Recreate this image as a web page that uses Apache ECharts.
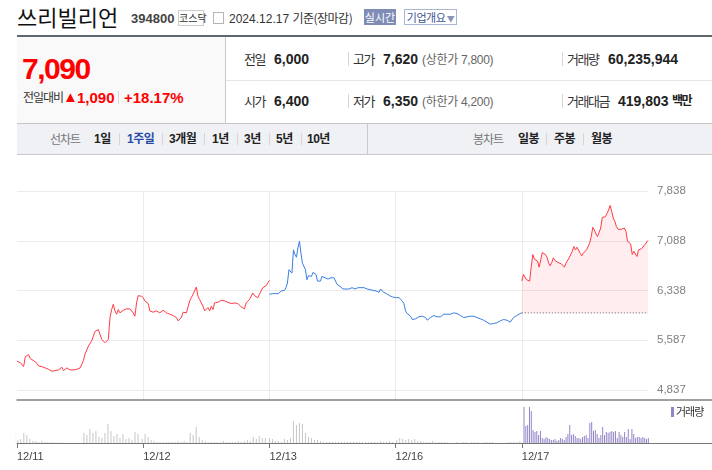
<!DOCTYPE html>
<html><head><meta charset="utf-8">
<script src="https://cdn.jsdelivr.net/npm/echarts@6/dist/echarts.min.js"></script>
<style>
html,body{margin:0;padding:0;background:#fff;}
body{width:712px;height:470px;position:relative;overflow:hidden;font-family:"Liberation Sans","Noto Sans CJK KR",sans-serif;color:#333;}
.t{position:absolute;white-space:nowrap;line-height:1;}
.b{font-weight:bold;}
.red{color:#f00;}
.lab{font-size:13px;letter-spacing:-1.5px;color:#333;font-family:"Noto Sans CJK KR",sans-serif;}
.val{font-size:14px;font-weight:bold;color:#222;}
.sep{position:absolute;width:1px;background:#d5d5d5;}
.tab{font-size:12px;font-weight:bold;color:#222;letter-spacing:-0.5px;}
#chart{position:absolute;left:0;top:155px;width:712px;height:315px;}
</style></head>
<body>
<!-- title row -->
<div class="t" style="left:17px;top:5px;font-size:22px;color:#111;font-family:'Noto Sans CJK KR';">쓰리빌리언</div>
<div class="t b" style="left:131px;top:12px;font-size:13px;color:#444;">394800</div>
<div class="t" style="left:178px;top:10px;width:24px;height:14px;border:1px solid #ccc;font-size:10px;line-height:14px;text-align:center;color:#333;font-family:'Noto Sans CJK KR';">코스닥</div>
<div class="t" style="left:213px;top:12px;width:9px;height:10px;border:1px solid #b5b5b5;"></div>
<div class="t" style="left:229px;top:12px;font-size:12px;color:#333;">2024.12.17 <span style="font-family:'Noto Sans CJK KR';letter-spacing:-0.5px">기준(장마감)</span></div>
<div class="t" style="left:364px;top:9px;width:32px;height:16px;background:#7f8db6;color:#fff;font-size:11px;line-height:16px;text-align:center;font-family:'Noto Sans CJK KR';">실시간</div>
<div class="t" style="left:404px;top:9px;width:51px;height:14px;border:1px solid #a9b6d3;color:#3c5394;font-size:11px;line-height:14px;text-align:center;font-family:'Noto Sans CJK KR';letter-spacing:-0.5px;">기업개요<span style="font-size:8px;color:#8894b8"> ▼</span></div>

<!-- top dark bar -->
<div class="t" style="left:17px;top:35px;width:695px;height:2px;background:#62666e;"></div>
<!-- left panel -->
<div class="t" style="left:17px;top:37px;width:208px;height:86px;background:#f9f9f9;border-right:1px solid #c9c9c9;"></div>
<div class="t" style="left:226px;top:80px;width:486px;height:1px;background:#e6e6e6;"></div>
<div class="t" style="left:17px;top:123px;width:695px;height:1px;background:#c5c5c5;"></div>

<div class="t b red" style="left:22px;top:54px;font-size:30px;letter-spacing:-1.5px;">7,090</div>
<div class="t" style="left:23px;top:91px;font-size:12px;color:#333;font-family:'Noto Sans CJK KR';letter-spacing:-1px;">전일대비</div>
<div class="t red" style="left:63px;top:89px;font-size:15px;">▲</div>
<div class="t b red" style="left:77px;top:90px;font-size:15px;">1,090</div>
<div class="sep" style="left:118px;top:91px;height:13px;"></div>
<div class="t b red" style="left:124px;top:90px;font-size:15px;">+18.17%</div>

<!-- info rows -->
<div class="t lab" style="left:244px;top:52px;">전일</div>
<div class="t val" style="left:274px;top:52px;">6,000</div>
<div class="sep" style="left:348px;top:52px;height:14px;"></div>
<div class="t lab" style="left:353px;top:52px;">고가</div>
<div class="t val red" style="left:383px;top:52px;">7,620</div>
<div class="t" style="left:422px;top:53px;font-size:12px;color:#666;letter-spacing:-0.3px;">(<span style="font-family:'Noto Sans CJK KR'">상한가</span> 7,800)</div>
<div class="sep" style="left:562px;top:52px;height:14px;"></div>
<div class="t lab" style="left:567px;top:52px;">거래량</div>
<div class="t val" style="left:608px;top:52px;">60,235,944</div>

<div class="t lab" style="left:244px;top:94px;">시가</div>
<div class="t val red" style="left:274px;top:94px;">6,400</div>
<div class="sep" style="left:348px;top:94px;height:14px;"></div>
<div class="t lab" style="left:353px;top:94px;">저가</div>
<div class="t val red" style="left:383px;top:94px;">6,350</div>
<div class="t" style="left:422px;top:95px;font-size:12px;color:#666;letter-spacing:-0.3px;">(<span style="font-family:'Noto Sans CJK KR'">하한가</span> 4,200)</div>
<div class="sep" style="left:562px;top:94px;height:14px;"></div>
<div class="t lab" style="left:567px;top:94px;">거래대금</div>
<div class="t val" style="left:618px;top:94px;">419,803</div>
<div class="t" style="left:672px;top:94px;font-size:12px;font-weight:bold;color:#222;font-family:'Noto Sans CJK KR';letter-spacing:-1.5px;">백만</div>

<!-- tab row -->
<div class="t" style="left:17px;top:124px;width:695px;height:30px;background:#eff1f5;border-bottom:1px solid #c5c8ce;"></div>
<div class="t" style="left:367px;top:124px;width:1px;height:30px;background:#c5c8ce;"></div>
<div class="t" style="left:50px;top:133px;font-size:12px;color:#777;font-family:'Noto Sans CJK KR';letter-spacing:-1px;">선차트</div>
<div class="t tab" style="left:94px;top:133px;">1일</div>
<div class="sep" style="left:119px;top:133px;height:12px;"></div>
<div class="t tab" style="left:127px;top:133px;color:#2a49a5;">1주일</div>
<div class="sep" style="left:162px;top:133px;height:12px;"></div>
<div class="t tab" style="left:169px;top:133px;">3개월</div>
<div class="sep" style="left:204px;top:133px;height:12px;"></div>
<div class="t tab" style="left:212px;top:133px;">1년</div>
<div class="sep" style="left:237px;top:133px;height:12px;"></div>
<div class="t tab" style="left:244px;top:133px;">3년</div>
<div class="sep" style="left:269px;top:133px;height:12px;"></div>
<div class="t tab" style="left:276px;top:133px;">5년</div>
<div class="sep" style="left:301px;top:133px;height:12px;"></div>
<div class="t tab" style="left:307px;top:133px;">10년</div>
<div class="t" style="left:473px;top:133px;font-size:12px;color:#777;font-family:'Noto Sans CJK KR';letter-spacing:-1px;">봉차트</div>
<div class="t tab" style="left:518px;top:133px;">일봉</div>
<div class="sep" style="left:546px;top:133px;height:12px;"></div>
<div class="t tab" style="left:554px;top:133px;">주봉</div>
<div class="sep" style="left:583px;top:133px;height:12px;"></div>
<div class="t tab" style="left:591px;top:133px;">월봉</div>

<div id="chart"></div>
<script>
// ---------- data ----------
const dates = ['12/11', '12/12', '12/13', '12/16', '12/17'];
const yTickLabels = [4837, 5587, 6338, 7088, 7838];
const prevClose = 6000;

const price1211 = [5270,5290,5250,5280,5190,5340,5350,5370,5310,5330,5280,5260,5240,5200,5210,5190,5180,5170,5160,5150,5140,5120,5130,5130,5140,5140,5150,5180,5130,5150,5170,5140,5140,5140,5140,5140,5150,5150,5170,5150,5280,5380,5400,5500,5520,5580,5650,5720,5730,5750,5780,5600,5630,5550,5580,5600,5930,6050,6130,6030,5980,6050,6000,6030,6040,6050,6060,6090,6060,6030,6000,5950,6150,6260,6260,6250,6230];
const price1212 = [6230,6180,6150,6140,6030,6000,6010,6000,6030,6010,6000,5990,6040,6030,6000,5990,5980,5980,5960,5950,5930,5880,5900,5930,6010,5990,6000,6030,6180,6230,6280,6300,6390,6250,6200,6150,6100,6030,6050,6080,6030,6100,6050,6150,6140,6160,6150,6190,6160,6180,6150,6160,6150,6140,6160,6150,6130,6140,6110,6090,6080,6060,6150,6180,6200,6230,6300,6260,6230,6230,6250,6330,6380,6410,6410,6430,6490];
const price1213 = [6280,6260,6290,6310,6290,6310,6290,6280,6330,6340,6340,6380,6450,6650,6680,6600,6950,6880,6840,6980,7080,6900,6750,6750,6650,6500,6560,6590,6550,6610,6590,6580,6480,6460,6480,6550,6540,6530,6500,6510,6500,6530,6540,6530,6500,6430,6410,6400,6390,6360,6390,6360,6380,6360,6380,6380,6400,6360,6390,6380,6390,6380,6390,6380,6360,6360,6350,6350,6340,6340,6340,6330,6310,6310,6360,6390,6310,6300,6290,6280,6260,6230,6240,6230,6230];
const price1216 = [6230,6200,6230,6200,6180,6140,6030,5990,5980,5950,5900,5900,5910,5930,5940,5930,5950,5960,5930,5890,5910,5930,5950,5960,5950,5940,5950,5940,5960,5980,5960,5980,5990,5980,5990,6000,6010,5990,5980,5960,5950,5930,5920,5940,5960,5950,5930,5950,5980,5930,5910,5910,5900,5890,5880,5860,5840,5830,5810,5840,5860,5850,5880,5880,5890,5900,5910,5890,5880,5860,5860,5930,5950,5960,5980,5990,6000];
const price1217 = [6480,6580,6560,6500,6480,6480,6700,6880,6810,6830,6780,6690,6800,6910,6890,6880,6840,6750,6710,6760,6830,6790,6780,6760,6760,6740,6730,6690,6750,6730,6830,6850,6930,7000,6950,6990,6980,6900,6860,6900,6930,6950,6980,7050,7150,7290,7250,7190,7150,7150,7280,7440,7440,7450,7500,7550,7620,7530,7430,7380,7300,7260,7250,7260,7280,7280,7230,7080,7080,7040,6880,6930,6910,6850,6950,6980,6970,7000,7030,7060,7090];

// volume (10k shares)
const vol1211 = [90,30,40,100,80,40,20,20,10,20,10,10,10,10,5,5,5,0,0,0,0,0,0,100,80,140,100,120,60,50,100,190,120,70,90,50,90,40,50,30,110,90];
const vol1212 = [40,90,60,30,20,10,10,10,10,10,10,10,20,10,20,10,100,80,160,60,30,20,10,10,10,10,10,20,10,10,10,10,20,10,20,30,20,60,40,70,50,50];
const vol1213 = [50,40,20,20,10,40,30,50,220,180,200,190,100,60,50,30,30,20,10,10,10,10,10,10,10,10,10,10,10,10,10,10,10,10,10,10,10,20,10,10,20,10];
const vol1216 = [30,50,40,30,40,30,40,20,20,10,10,10,20,10,10,10,10,10,0,0,10,0,10,10,0,10,10,10,0,10,10,10,10,0,0,0,0,10,10,10,10,20];
const vol1217 = [360,170,180,360,320,130,110,120,80,120,50,40,60,50,40,30,30,40,20,30,50,40,30,60,90,180,80,90,70,50,50,40,60,70,80,50,200,210,120,130,90,50,80,160,80,110,100,110,120,110,120,50,110,80,60,110,60,140,40,140,90,50,60,60,50,60,50,40,50];

// ---------- build ----------
const prices = [price1211, price1212, price1213, price1216, price1217];
const vols = [vol1211, vol1212, vol1213, vol1216, vol1217];
const RED = '#ff3b44', BLUE = '#3a7ee0';
const series = [];
prices.forEach((arr, d) => {
  const ref = d === 0 ? arr[0] : prices[d - 1][prices[d - 1].length - 1];
  const up = arr[arr.length - 1] >= ref;
  const s = {
    type: 'line', xAxisIndex: 0, yAxisIndex: 0, showSymbol: false, animation: false,
    data: arr.map((v, j) => [d + j / (arr.length - 1), v]),
    lineStyle: { color: up ? RED : BLUE, width: 1 }, itemStyle: { color: up ? RED : BLUE },
    z: 3
  };
  if (d === prices.length - 1) {
    s.areaStyle = { origin: prevClose, color: 'rgba(250,60,75,0.13)' };
  }
  series.push(s);
});
const last = prices.length - 1;
series.push({
  type: 'line', xAxisIndex: 0, yAxisIndex: 0, showSymbol: false, animation: false, silent: true,
  data: [[last, prevClose], [last + 1, prevClose]],
  lineStyle: { color: '#666', width: 1, type: [1, 2] }, z: 2
});
vols.forEach((arr, d) => {
  series.push({
    type: 'bar', xAxisIndex: 1, yAxisIndex: 1, animation: false, barWidth: 1,
    data: arr.map((v, j) => [d + j / arr.length, v]),
    itemStyle: { color: d === last ? '#9585c8' : '#c6c6c6' }
  });
});
const volPeak = Math.max(...vols.flat());
const volMaxX = dates.length * (712 - 17) / (648 - 17);
const yMin = yTickLabels[0], yMax = yTickLabels[yTickLabels.length - 1];
const yInt = (yMax - yMin) / (yTickLabels.length - 1);

const chart = echarts.init(document.getElementById('chart'), null, { renderer: 'canvas' });
chart.setOption({
  animation: false,
  backgroundColor: '#fff',
  grid: [
    { left: 17, width: 631, top: 36, height: 199 },
    { left: 17, width: 695, top: 245, height: 43 },
    { left: 17, width: 631, top: 36, height: 209 }
  ],
  xAxis: [
    { gridIndex: 0, type: 'value', min: 0, max: dates.length, show: false },
    { gridIndex: 1, type: 'value', min: 0, max: volMaxX, interval: 1,
      axisLine: { show: true, lineStyle: { color: '#777', width: 1 } },
      axisTick: { show: true, length: 5, lineStyle: { color: '#777' }, customValues: dates.map((_, i) => i) },
      axisLabel: { show: true, customValues: dates.map((_, i) => i), formatter: v => dates[Math.round(v)] || '', align: 'left', margin: 8, color: '#444', fontSize: 11, fontFamily: 'Liberation Sans' },
      splitLine: { show: false } },
    { gridIndex: 1, type: 'value', position: 'top', min: 0, max: volMaxX,
      axisLine: { show: true, lineStyle: { color: '#808080', width: 1.5 } },
      axisTick: { show: false }, axisLabel: { show: false }, splitLine: { show: false } },
    { gridIndex: 2, type: 'value', min: 0, max: dates.length, interval: 1,
      axisLine: { show: false }, axisTick: { show: false }, axisLabel: { show: false },
      splitLine: { show: true, showMinLine: false, showMaxLine: false, lineStyle: { color: '#ebebeb', width: 1 } } }
  ],
  yAxis: [
    { gridIndex: 0, type: 'value', position: 'right', min: yMin, max: yMax, interval: yInt,
      axisLine: { show: false }, axisTick: { show: false },
      axisLabel: { margin: 9, color: '#808080', fontSize: 11.5, fontFamily: 'Liberation Sans',
        formatter: v => Math.round(v).toLocaleString('en-US') },
      splitLine: { show: true, lineStyle: { color: '#ebebeb', width: 1 } } },
    { gridIndex: 1, type: 'value', min: 0, max: volPeak * 43 / 36, show: false },
    { gridIndex: 2, type: 'value', min: 0, max: 1, show: false }
  ],
  series: series
});
</script>
<div class="t" style="left:671px;top:407px;width:3px;height:10px;background:#9585c8;"></div>
<div class="t" style="left:676px;top:406px;font-size:11px;color:#333;font-family:'Noto Sans CJK KR';letter-spacing:-1px;">거래량</div>
</body></html>
